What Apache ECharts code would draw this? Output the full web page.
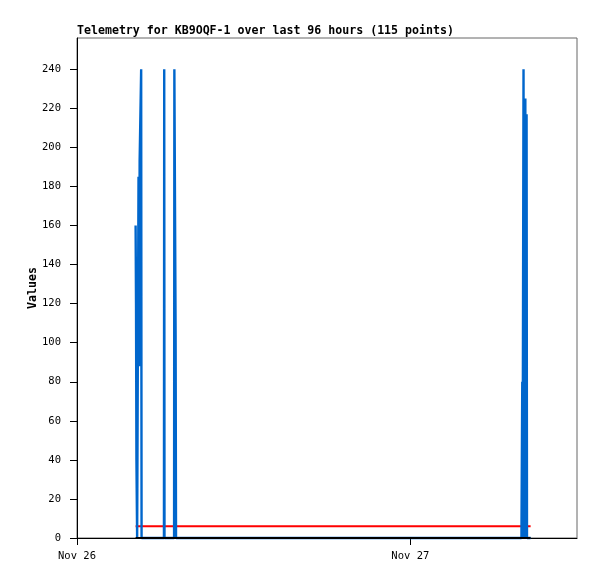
<!DOCTYPE html>
<html>
<head>
<meta charset="utf-8">
<script src="https://cdn.jsdelivr.net/npm/echarts@6/dist/echarts.min.js"></script>
<style>
html,body{margin:0;padding:0;background:#fff;}
#chart{width:597px;height:579px;}
</style>
</head>
<body>
<div id="chart"></div>
<script>
// Hours since Nov 26 00:00
const titleText = 'Telemetry for KB9OQF-1 over last 96 hours (115 points)';
const xTickHours = [0, 24];
const xTickLabels = ['Nov 26', 'Nov 27'];
const yTicks = [0, 20, 40, 60, 80, 100, 120, 140, 160, 180, 200, 220, 240];

const blueHours  = [4.22, 4.25, 4.28, 4.33, 4.43, 4.47, 4.51, 4.62, 4.65, 6.26, 6.28, 6.30, 6.99, 7.01, 7.10, 7.13, 32.00, 32.06, 32.08, 32.15, 32.18, 32.28, 32.30, 32.37, 32.40, 32.66];
const blueValues = [160, 120, 40, 0, 185, 88, 193, 240, 0, 0, 240, 0, 0, 240, 104, 0, 0, 80, 0, 240, 0, 225, 0, 217, 0, 0];

const redHours  = [4.22, 31.87, 31.94, 32.01, 32.66];
const redValues = [6, 6, 7, 6, 6];

const blackHours  = [4.22, 32.66];
const blackValues = [0, 0];

const zip = (xs, ys) => xs.map((x, i) => [x, ys[i]]);
const mono = 'DejaVu Sans Mono';

const chart = echarts.init(document.getElementById('chart'), null, {renderer: 'canvas'});
chart.setOption({
  animation: false,
  backgroundColor: '#fff',
  title: {
    text: titleText,
    left: 77, top: 25, padding: 0,
    textStyle: {fontFamily: mono, fontSize: 11.6, fontWeight: 'bold', color: '#000'}
  },
  grid: {left: 77, right: 20, top: 38, bottom: 41, show: true, borderColor: '#666', borderWidth: 1, backgroundColor: 'transparent'},
  xAxis: {
    type: 'value', min: 0, max: 36,
    axisLine: {show: true, onZero: false, lineStyle: {color: '#000', width: 1}},
    axisTick: {show: true, inside: false, length: 7, customValues: xTickHours, lineStyle: {color: '#000'}},
    axisLabel: {
      customValues: xTickHours, margin: 13,
      fontFamily: mono, fontSize: 10.5, color: '#000',
      formatter: v => { const i = xTickHours.indexOf(v); return i >= 0 ? xTickLabels[i] : ''; }
    },
    splitLine: {show: false}
  },
  yAxis: {
    type: 'value', min: 0, max: 256,
    name: 'Values', nameLocation: 'middle', nameGap: 38, nameMoveOverlap: false,
    nameTextStyle: {fontFamily: mono, fontSize: 11.6, fontWeight: 'bold', color: '#000'},
    axisLine: {show: true, lineStyle: {color: '#000', width: 1}},
    axisTick: {show: true, inside: false, length: 7, customValues: yTicks, lineStyle: {color: '#000'}},
    axisLabel: {customValues: yTicks, margin: 16, fontFamily: mono, fontSize: 10.5, color: '#000'},
    splitLine: {show: false}
  },
  series: [
    {type: 'line', data: zip(redHours, redValues), showSymbol: false, symbol: 'none', clip: false, z: 2,
     lineStyle: {color: '#ff0000', width: 2}},
    {type: 'line', data: zip(blueHours, blueValues), showSymbol: false, symbol: 'none', clip: false, z: 3,
     lineStyle: {color: '#0066cc', width: 2.4, join: 'bevel', cap: 'butt'}},
    {type: 'line', data: zip(blackHours, blackValues), showSymbol: false, symbol: 'none', clip: false, z: 4,
     lineStyle: {color: '#000000', width: 2}}
  ]
});
</script>
</body>
</html>
